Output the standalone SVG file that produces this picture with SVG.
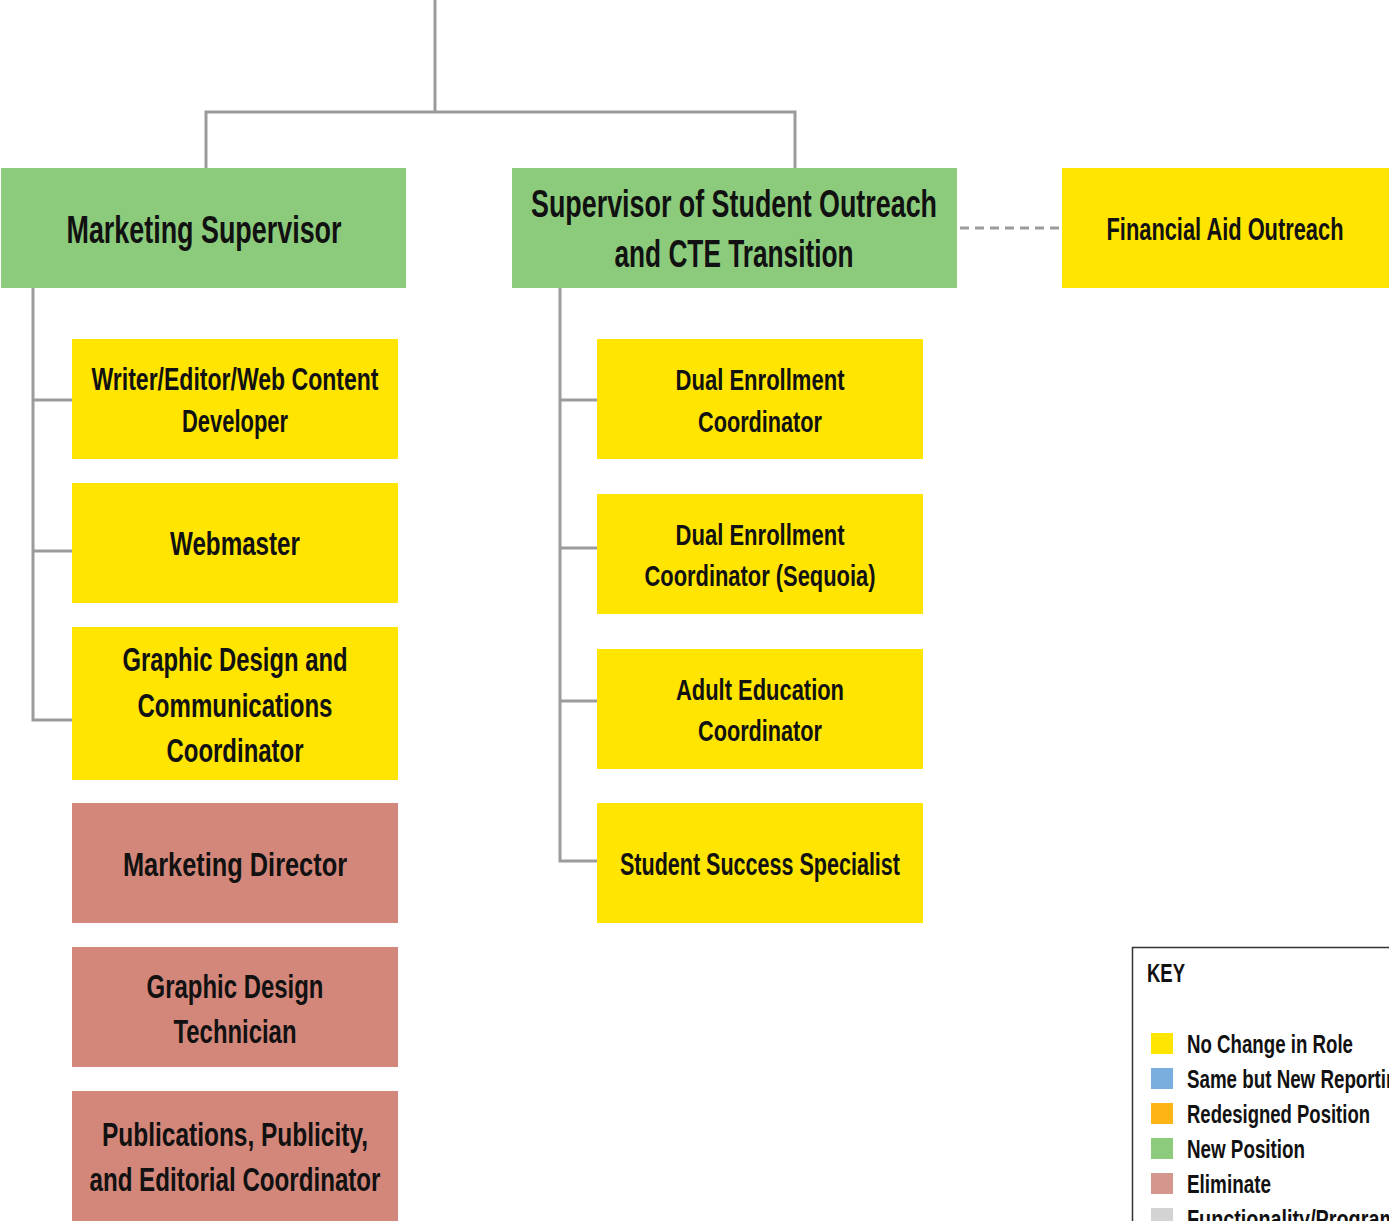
<svg xmlns="http://www.w3.org/2000/svg" width="1389" height="1221" viewBox="0 0 1389 1221">
<style>
.bg{fill:#ffffff}
.g{fill:#8DCB7C}
.y{fill:#FFE500}
.r{fill:#D3877A}
.t{font-family:"Liberation Sans",Arial,sans-serif;font-weight:bold;fill:#111;text-anchor:middle}
.k{font-family:"Liberation Sans",Arial,sans-serif;font-weight:bold;fill:#111}
.ln{fill:none;stroke:#9B9B9C;stroke-width:3}
.dash{fill:none;stroke:#9B9B9C;stroke-width:3;stroke-dasharray:9 6}
</style>
<rect class="bg" x="0" y="0" width="1389" height="1221"/>
<g id="connectors">
<polyline class="ln" points="435,0 435,112"/>
<polyline class="ln" points="206,168 206,112 795,112 795,168"/>
<polyline class="ln" points="33,288 33,720 72,720"/>
<line class="ln" x1="33" y1="400" x2="72" y2="400"/>
<line class="ln" x1="33" y1="551" x2="72" y2="551"/>
<polyline class="ln" points="560,288 560,861 597,861"/>
<line class="ln" x1="560" y1="400" x2="597" y2="400"/>
<line class="ln" x1="560" y1="548" x2="597" y2="548"/>
<line class="ln" x1="560" y1="701" x2="597" y2="701"/>
<line class="dash" x1="960" y1="228" x2="1062" y2="228"/>
</g>
<g id="marketing-supervisor">
<rect class="g" x="1" y="168" width="405" height="120"/>
<text class="t" x="204" y="243" font-size="38" textLength="275" lengthAdjust="spacingAndGlyphs">Marketing Supervisor</text>
</g>
<g id="supervisor-outreach">
<rect class="g" x="512" y="168" width="445" height="120"/>
<text class="t" x="734" y="217" font-size="38" textLength="406" lengthAdjust="spacingAndGlyphs">Supervisor of Student Outreach</text>
<text class="t" x="734" y="267" font-size="38" textLength="239" lengthAdjust="spacingAndGlyphs">and CTE Transition</text>
</g>
<g id="financial-aid-outreach">
<rect class="y" x="1062" y="168" width="327" height="120"/>
<text class="t" x="1225" y="240" font-size="32" textLength="237" lengthAdjust="spacingAndGlyphs">Financial Aid Outreach</text>
</g>
<g id="writer-editor">
<rect class="y" x="72" y="339" width="326" height="120"/>
<text class="t" x="235" y="390" font-size="31" textLength="287" lengthAdjust="spacingAndGlyphs">Writer/Editor/Web Content</text>
<text class="t" x="235" y="432" font-size="31" textLength="106" lengthAdjust="spacingAndGlyphs">Developer</text>
</g>
<g id="webmaster">
<rect class="y" x="72" y="483" width="326" height="120"/>
<text class="t" x="235" y="555" font-size="33" textLength="130" lengthAdjust="spacingAndGlyphs">Webmaster</text>
</g>
<g id="graphic-design-comm">
<rect class="y" x="72" y="627" width="326" height="153"/>
<text class="t" x="235" y="671" font-size="34" textLength="225" lengthAdjust="spacingAndGlyphs">Graphic Design and</text>
<text class="t" x="235" y="717" font-size="34" textLength="195" lengthAdjust="spacingAndGlyphs">Communications</text>
<text class="t" x="235" y="762" font-size="34" textLength="137" lengthAdjust="spacingAndGlyphs">Coordinator</text>
</g>
<g id="marketing-director">
<rect class="r" x="72" y="803" width="326" height="120"/>
<text class="t" x="235" y="876" font-size="34" textLength="224" lengthAdjust="spacingAndGlyphs">Marketing Director</text>
</g>
<g id="graphic-design-technician">
<rect class="r" x="72" y="947" width="326" height="120"/>
<text class="t" x="235" y="998" font-size="34" textLength="177" lengthAdjust="spacingAndGlyphs">Graphic Design</text>
<text class="t" x="235" y="1043" font-size="34" textLength="123" lengthAdjust="spacingAndGlyphs">Technician</text>
</g>
<g id="publications-coordinator">
<rect class="r" x="72" y="1091" width="326" height="130"/>
<text class="t" x="235" y="1146" font-size="34" textLength="266" lengthAdjust="spacingAndGlyphs">Publications, Publicity,</text>
<text class="t" x="235" y="1191" font-size="34" textLength="291" lengthAdjust="spacingAndGlyphs">and Editorial Coordinator</text>
</g>
<g id="dual-enrollment-coordinator">
<rect class="y" x="597" y="339" width="326" height="120"/>
<text class="t" x="760" y="390" font-size="30" textLength="169" lengthAdjust="spacingAndGlyphs">Dual Enrollment</text>
<text class="t" x="760" y="432" font-size="30" textLength="124" lengthAdjust="spacingAndGlyphs">Coordinator</text>
</g>
<g id="dual-enrollment-sequoia">
<rect class="y" x="597" y="494" width="326" height="120"/>
<text class="t" x="760" y="545" font-size="30" textLength="169" lengthAdjust="spacingAndGlyphs">Dual Enrollment</text>
<text class="t" x="760" y="586" font-size="30" textLength="231" lengthAdjust="spacingAndGlyphs">Coordinator (Sequoia)</text>
</g>
<g id="adult-education-coordinator">
<rect class="y" x="597" y="649" width="326" height="120"/>
<text class="t" x="760" y="700" font-size="30" textLength="168" lengthAdjust="spacingAndGlyphs">Adult Education</text>
<text class="t" x="760" y="741" font-size="30" textLength="124" lengthAdjust="spacingAndGlyphs">Coordinator</text>
</g>
<g id="student-success-specialist">
<rect class="y" x="597" y="803" width="326" height="120"/>
<text class="t" x="760" y="875" font-size="31" textLength="280" lengthAdjust="spacingAndGlyphs">Student Success Specialist</text>
</g>
<g id="key">
<path d="M1132.5,1221 V947.5 H1389" fill="none" stroke="#333333" stroke-width="1.5"/>
<text class="k" x="1147" y="982" font-size="25" textLength="38" lengthAdjust="spacingAndGlyphs">KEY</text>
<rect x="1151" y="1033" width="22" height="21" fill="#FFE500"/>
<rect x="1151" y="1068" width="22" height="21" fill="#7AAEDF"/>
<rect x="1151" y="1103" width="22" height="21" fill="#FDB515"/>
<rect x="1151" y="1138" width="22" height="21" fill="#8DCB7C"/>
<rect x="1151" y="1173" width="22" height="21" fill="#D3978D"/>
<rect x="1151" y="1208" width="22" height="13" fill="#D3D3D3"/>
<text class="k" x="1187" y="1053" font-size="26" textLength="166" lengthAdjust="spacingAndGlyphs">No Change in Role</text>
<text class="k" x="1187" y="1088" font-size="26" textLength="222" lengthAdjust="spacingAndGlyphs">Same but New Reporting</text>
<text class="k" x="1187" y="1123" font-size="26" textLength="183" lengthAdjust="spacingAndGlyphs">Redesigned Position</text>
<text class="k" x="1187" y="1158" font-size="26" textLength="118" lengthAdjust="spacingAndGlyphs">New Position</text>
<text class="k" x="1187" y="1193" font-size="26" textLength="84" lengthAdjust="spacingAndGlyphs">Eliminate</text>
<text class="k" x="1187" y="1228" font-size="26" textLength="210" lengthAdjust="spacingAndGlyphs">Functionality/Program</text>
</g>
</svg>
